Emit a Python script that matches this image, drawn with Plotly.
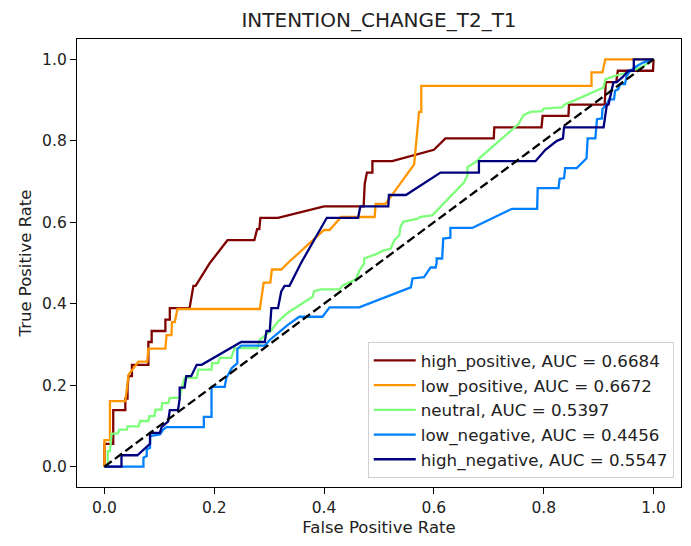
import plotly.graph_objects as go

title = "INTENTION_CHANGE_T2_T1"
labels = ["high_positive", "low_positive", "neutral", "low_negative", "high_negative"]
aucs = [0.6684, 0.6672, 0.5397, 0.4456, 0.5547]
colors = ["#7f0000", "#ff9600", "#7dff7a", "#0080ff", "#00007f"]

fpr_high_positive = [0, 0, 0.016, 0.016, 0.038, 0.038, 0.042, 0.042, 0.044, 0.050, 0.050, 0.064, 0.080, 0.080, 0.080, 0.086, 0.086, 0.111, 0.111, 0.119, 0.119, 0.155, 0.162, 0.166, 0.192, 0.224, 0.273, 0.278, 0.282, 0.284, 0.316, 0.40, 0.472, 0.474, 0.478, 0.488, 0.488, 0.524, 0.60, 0.621, 0.709, 0.71, 0.796, 0.798, 0.845, 0.846, 0.911, 0.913, 0.932, 0.935, 0.999, 1.0]
tpr_high_positive = [0, 0.056, 0.056, 0.139, 0.139, 0.167, 0.167, 0.194, 0.222, 0.222, 0.25, 0.25, 0.25, 0.278, 0.306, 0.306, 0.333, 0.333, 0.361, 0.361, 0.389, 0.389, 0.444, 0.444, 0.5, 0.556, 0.556, 0.583, 0.583, 0.611, 0.611, 0.639, 0.639, 0.694, 0.722, 0.722, 0.75, 0.75, 0.778, 0.806, 0.806, 0.833, 0.833, 0.861, 0.861, 0.889, 0.889, 0.944, 0.944, 0.972, 0.972, 1.0]

fpr_low_positive = [0, 0, 0.010, 0.010, 0.038, 0.044, 0.062, 0.078, 0.080, 0.111, 0.113, 0.122, 0.123, 0.128, 0.133, 0.283, 0.290, 0.302, 0.305, 0.322, 0.334, 0.40, 0.41, 0.431, 0.492, 0.494, 0.512, 0.564, 0.573, 0.577, 0.577, 0.887, 0.887, 0.907, 0.912, 1.0]
tpr_low_positive = [0, 0.065, 0.065, 0.161, 0.161, 0.226, 0.258, 0.258, 0.290, 0.290, 0.323, 0.323, 0.355, 0.355, 0.387, 0.387, 0.452, 0.452, 0.484, 0.484, 0.5, 0.581, 0.581, 0.613, 0.613, 0.645, 0.645, 0.742, 0.871, 0.871, 0.935, 0.935, 0.968, 0.968, 1.0, 1.0]

fpr_neutral = [0, 0.006, 0.006, 0.010, 0.013, 0.024, 0.027, 0.041, 0.042, 0.062, 0.065, 0.080, 0.082, 0.091, 0.093, 0.104, 0.105, 0.116, 0.119, 0.137, 0.140, 0.146, 0.168, 0.171, 0.195, 0.196, 0.207, 0.210, 0.231, 0.237, 0.279, 0.283, 0.304, 0.316, 0.334, 0.379, 0.382, 0.394, 0.428, 0.434, 0.458, 0.464, 0.473, 0.473, 0.497, 0.509, 0.521, 0.528, 0.537, 0.539, 0.544, 0.570, 0.576, 0.597, 0.655, 0.661, 0.661, 0.673, 0.679, 0.685, 0.754, 0.763, 0.776, 0.797, 0.800, 0.833, 0.839, 0.854, 0.909, 0.912, 0.933, 0.951, 0.969, 0.981, 1.0]
tpr_neutral = [0, 0, 0.038, 0.038, 0.081, 0.081, 0.091, 0.091, 0.099, 0.099, 0.112, 0.112, 0.124, 0.124, 0.140, 0.140, 0.156, 0.156, 0.169, 0.169, 0.189, 0.218, 0.218, 0.238, 0.238, 0.254, 0.254, 0.267, 0.267, 0.291, 0.291, 0.311, 0.335, 0.356, 0.378, 0.417, 0.431, 0.435, 0.435, 0.445, 0.46, 0.481, 0.499, 0.511, 0.523, 0.531, 0.535, 0.556, 0.568, 0.588, 0.601, 0.609, 0.613, 0.617, 0.698, 0.715, 0.735, 0.747, 0.751, 0.760, 0.841, 0.863, 0.871, 0.873, 0.879, 0.882, 0.890, 0.898, 0.931, 0.951, 0.961, 0.967, 0.977, 0.983, 1.0]

fpr_low_negative = [0, 0.071, 0.071, 0.077, 0.077, 0.083, 0.083, 0.101, 0.107, 0.113, 0.181, 0.181, 0.195, 0.195, 0.219, 0.222, 0.232, 0.242, 0.242, 0.249, 0.292, 0.301, 0.316, 0.334, 0.355, 0.397, 0.410, 0.464, 0.558, 0.561, 0.582, 0.594, 0.603, 0.605, 0.605, 0.615, 0.617, 0.630, 0.630, 0.670, 0.679, 0.742, 0.788, 0.789, 0.827, 0.829, 0.837, 0.839, 0.860, 0.878, 0.880, 0.894, 0.897, 0.906, 0.907, 0.915, 0.919, 0.928, 0.930, 0.936, 0.939, 0.948, 0.951, 0.957, 0.969, 0.981, 1.0]
tpr_low_negative = [0, 0, 0.022, 0.026, 0.042, 0.046, 0.075, 0.079, 0.091, 0.097, 0.097, 0.122, 0.122, 0.196, 0.196, 0.218, 0.242, 0.254, 0.289, 0.297, 0.297, 0.311, 0.328, 0.348, 0.368, 0.368, 0.391, 0.391, 0.440, 0.462, 0.465, 0.489, 0.489, 0.499, 0.511, 0.511, 0.560, 0.562, 0.586, 0.586, 0.592, 0.633, 0.633, 0.684, 0.684, 0.707, 0.708, 0.733, 0.733, 0.757, 0.806, 0.806, 0.853, 0.855, 0.878, 0.890, 0.902, 0.902, 0.923, 0.927, 0.939, 0.939, 0.959, 0.971, 0.983, 0.992, 1.0]

fpr_high_negative = [0, 0.031, 0.031, 0.060, 0.083, 0.083, 0.101, 0.104, 0.116, 0.119, 0.134, 0.137, 0.137, 0.146, 0.149, 0.158, 0.168, 0.177, 0.249, 0.292, 0.295, 0.301, 0.304, 0.316, 0.322, 0.328, 0.337, 0.358, 0.405, 0.462, 0.466, 0.517, 0.518, 0.549, 0.612, 0.682, 0.682, 0.785, 0.803, 0.824, 0.835, 0.837, 0.909, 0.912, 0.915, 0.918, 0.927, 0.933, 0.945, 0.954, 0.964, 0.964, 1.0]
tpr_high_negative = [0, 0, 0.028, 0.028, 0.056, 0.083, 0.083, 0.097, 0.111, 0.139, 0.139, 0.167, 0.194, 0.194, 0.222, 0.222, 0.250, 0.250, 0.306, 0.306, 0.333, 0.333, 0.389, 0.389, 0.43, 0.444, 0.444, 0.5, 0.611, 0.611, 0.639, 0.639, 0.667, 0.667, 0.722, 0.722, 0.75, 0.75, 0.778, 0.80, 0.806, 0.833, 0.833, 0.861, 0.889, 0.889, 0.944, 0.944, 0.958, 0.972, 0.972, 1.0, 1.0]

diag = [0, 1]

series_fpr = [fpr_high_positive, fpr_low_positive, fpr_neutral, fpr_low_negative, fpr_high_negative]
series_tpr = [tpr_high_positive, tpr_low_positive, tpr_neutral, tpr_low_negative, tpr_high_negative]

fig = go.Figure()
for i, (lab, auc, col) in enumerate(zip(labels, aucs, colors)):
    fig.add_trace(go.Scatter(
        x=series_fpr[i], y=series_tpr[i], mode="lines",
        line=dict(color=col, width=2.3),
        name=f"{lab}, AUC = {auc:.4f}",
    ))
fig.add_trace(go.Scatter(x=diag, y=diag, mode="lines",
                         line=dict(color="black", width=2.3, dash="9px,4px"),
                         showlegend=False))

ticks = [0.0, 0.2, 0.4, 0.6, 0.8, 1.0]
axis_common = dict(
    range=[-0.05, 1.05], tickvals=ticks, ticktext=[f"{t:.1f}" for t in ticks],
    showgrid=False, zeroline=False, showline=True, linecolor="black", linewidth=1.3,
    mirror=True, ticks="outside", ticklen=6, tickwidth=1.3, tickcolor="black",
    tickfont=dict(size=15.5, color="#222222"),
)
fig.update_layout(
    width=683, height=538,
    margin=dict(l=69, r=10, t=31, b=59),
    paper_bgcolor="white", plot_bgcolor="white",
    font=dict(family="DejaVu Sans", size=16, color="#222222"),
    title=dict(text=title, x=0.5, xanchor="center", xref="paper",
               y=1 - 12 / 538, yanchor="middle",
               font=dict(size=20, color="#222222")),
    xaxis=dict(title=dict(text="False Positive Rate", font=dict(size=16.5), standoff=5), **axis_common),
    yaxis=dict(title=dict(text="True Positive Rate", font=dict(size=16.5), standoff=6), **axis_common),
    legend=dict(x=0.988, y=0.02, xanchor="right", yanchor="bottom",
                bgcolor="rgba(255,255,255,0.8)", bordercolor="#d0d0d0", borderwidth=1,
                itemwidth=42,
                font=dict(size=16.7, color="#222222")),
)
fig.write_html("out.html")
